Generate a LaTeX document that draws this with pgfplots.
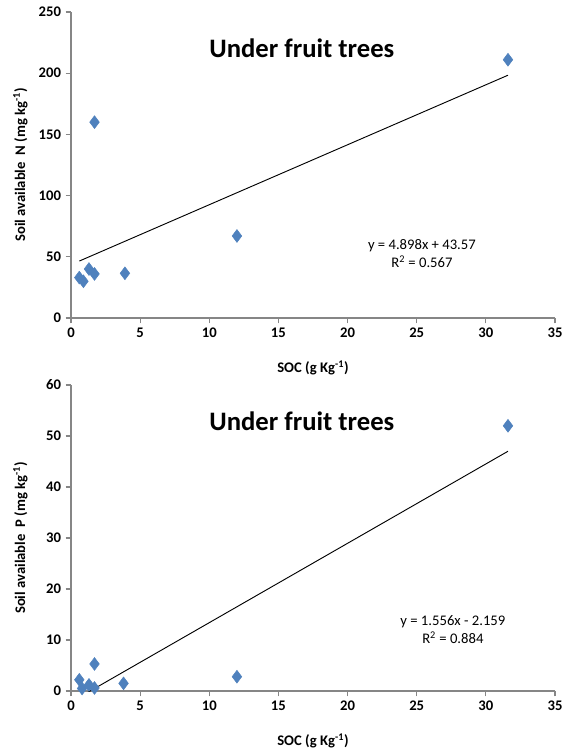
\documentclass[border=0pt]{standalone}
\usepackage{pgfplots}
\pgfplotsset{compat=1.18}
\usepackage{fontspec}
\setmainfont{Carlito}
\definecolor{ptblue}{HTML}{4F81BD}
\definecolor{axgray}{HTML}{868686}
\pgfplotsset{
  myax/.style={
    width=363pt, height=229.5pt, scale only axis,
    xmin=0, xmax=35, xtick={0,5,...,35},
    axis lines*=left,
    axis line style={axgray, line width=0.8pt},
    tick style={axgray, line width=0.8pt},
    tick align=outside,
    major tick length=4pt,
    ticklabel style={font=\fontsize{11}{13}\selectfont\bfseries, text=black},
    /pgf/number format/assume math mode=true,
    every axis x label/.style={at={(axis description cs:0.5,0)}, yshift=-37.5pt, anchor=center, font=\fontsize{11}{13}\selectfont\bfseries},
    every axis y label/.style={at={(axis description cs:0,0.5)}, xshift=-38pt, rotate=90, anchor=center, font=\fontsize{11}{13}\selectfont\bfseries},
    xlabel={SOC (g Kg\textsuperscript{-1})},
    clip=true,
  }
}
\begin{document}
\begin{tikzpicture}
\useasboundingbox (-53.25pt,-327.75pt) rectangle (371.25pt,238.5pt);
\begin{axis}[myax, at={(0,0)}, anchor=south west,
  ymin=0, ymax=250, ytick={0,50,...,250},
  ylabel={Soil available \ N (mg kg\textsuperscript{-1})}]
\addplot[only marks, mark=diamond*, mark size=4.8pt, color=ptblue] coordinates {
(0.6,33) (0.9,30) (1.3,40) (1.7,36) (3.9,36.5) (1.7,160) (12,67) (31.6,211)};
\addplot[black, line width=0.7pt] coordinates {(0.6,46.51) (31.6,198.35)};
\node[font=\fontsize{20}{24}\selectfont\bfseries] at (axis description cs:0.477,0.882) {Under fruit trees};
\node[align=center, font=\fontsize{11}{13.5}\selectfont] at (axis description cs:0.725,0.209) {y = 4.898x + 43.57\\R\textsuperscript{2} = 0.567};
\end{axis}
\begin{axis}[myax, at={(0,-279.75pt)}, anchor=south west,
  ymin=0, ymax=60, ytick={0,10,...,60},
  ylabel={Soil available \ P (mg kg\textsuperscript{-1})}]
\addplot[only marks, mark=diamond*, mark size=4.8pt, color=ptblue] coordinates {
(0.6,2.2) (0.8,0.5) (1.3,1.2) (1.7,0.6) (1.7,5.3) (3.8,1.5) (12,2.8) (31.6,52)};
\addplot[black, line width=0.7pt] coordinates {(0.6,-1.225) (31.6,47.01)};
\node[font=\fontsize{20}{24}\selectfont\bfseries] at (axis description cs:0.477,0.882) {Under fruit trees};
\node[align=center, font=\fontsize{11}{13.5}\selectfont] at (axis description cs:0.789,0.201) {y = 1.556x - 2.159\\R\textsuperscript{2} = 0.884};
\end{axis}
\end{tikzpicture}
\end{document}
